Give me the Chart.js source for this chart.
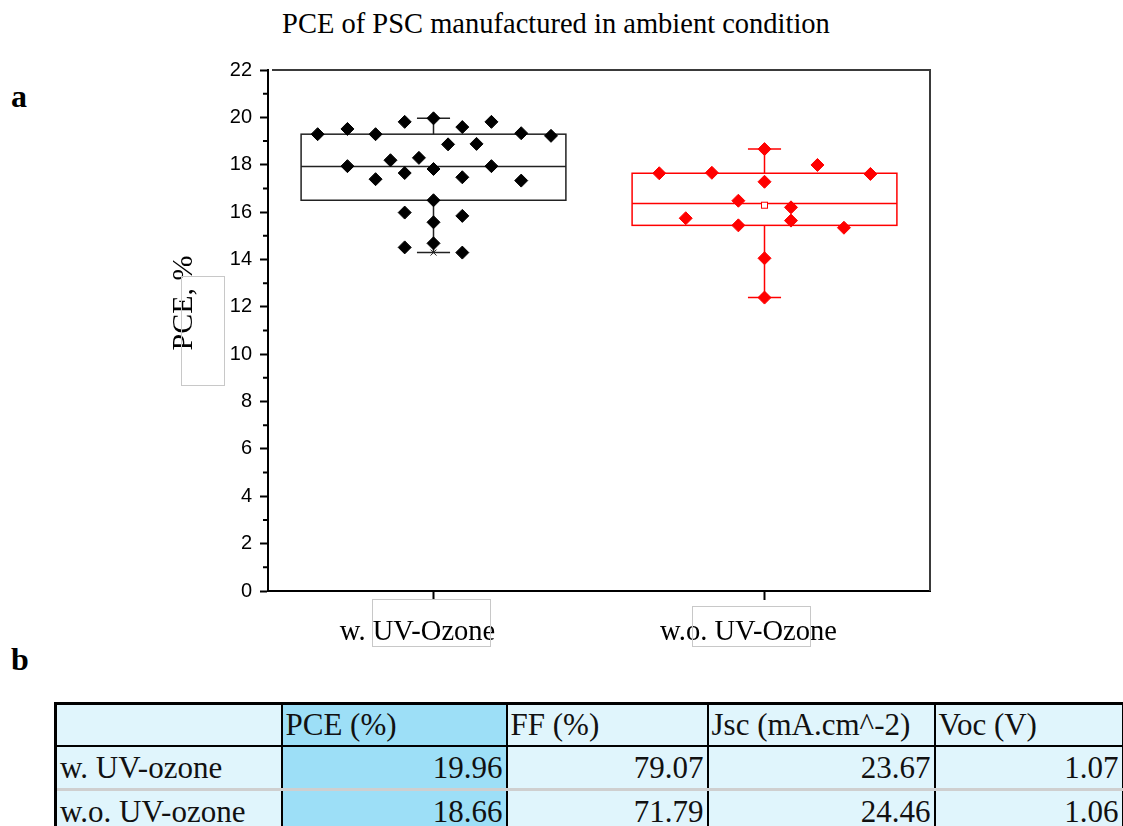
<!DOCTYPE html>
<html>
<head>
<meta charset="utf-8">
<script src="https://cdn.jsdelivr.net/npm/chart.js"></script>
<style>
  html, body { margin: 0; padding: 0; background: #fff; width: 1123px; height: 826px; overflow: hidden; }
  #wrap { position: relative; width: 1123px; height: 826px; }
  #chartBox { position: absolute; left: 0; top: 0; width: 1123px; height: 660px; }
  .title { position: absolute; left: 0; width: 1112px; top: 8px; text-align: center;
    font: 28.5px "Liberation Serif", serif; color: #000; }
  .panel { position: absolute; font: bold 32px "Liberation Serif", serif; color: #000; }
  #stats { position: absolute; left: 54px; top: 702px; width: 1067px; table-layout: fixed;
    border-collapse: collapse; font: 31px "Liberation Serif", serif; color: #111; }
  #stats td { background: #e0f5fc; border: 2px solid #000; padding: 0 3px; height: 40px;
    white-space: nowrap; overflow: hidden; }
  #stats tr:first-child td { border-top-width: 3px; }
  #stats td:first-child { border-left-width: 3px; }
  #stats tr.data td { height: 41px; text-align: right; }
  #stats tr.data td:first-child { text-align: left; }
  #stats tr.data + tr.data td { border-top: 3px solid #cfcfcf; }
  #stats td.hl { background: #9ddff7; }
</style>
</head>
<body>
<div id="wrap">
  <div class="title" id="title"></div>
  <div class="panel" style="left:11px; top:78px;">a</div>
  <div class="panel" style="left:11px; top:641px;">b</div>
  <div id="chartBox"><canvas id="myChart"></canvas></div>
  <table id="stats">
    <colgroup>
      <col style="width:226px"><col style="width:225px"><col style="width:201px"><col style="width:227px"><col style="width:188px">
    </colgroup>
    <tbody id="statsBody"></tbody>
  </table>
</div>
<script>
const chartTitle = "PCE of PSC manufactured in ambient condition";
const yTitle = "PCE, %";
const categories = ["w. UV-Ozone", "w.o. UV-Ozone"];

// PCE of every cell, with the horizontal jitter (in category units) used in the plot
const wPce    = [19.29, 19.51, 19.29, 19.81, 19.96, 19.59, 19.81, 19.33, 19.22, 18.86, 18.88, 18.19, 18.29, 17.94,
                 17.39, 17.65, 17.82, 17.47, 17.94, 17.33, 16.50, 15.98, 15.84, 15.57, 14.51, 14.68, 14.29];
const wJitter = [-0.35, -0.26, -0.175, -0.087, 0, 0.087, 0.175, 0.265, 0.355, 0.044, 0.13, -0.13, -0.044, -0.26,
                 -0.175, -0.087, 0, 0.087, 0.175, 0.265, 0, -0.087, 0.087, 0, -0.087, 0, 0.087];
const woPce    = [17.64, 17.66, 18.66, 17.28, 17.99, 17.61, 15.74, 16.48, 16.20, 15.44, 15.64, 15.34, 14.05, 12.39];
const woJitter = [-0.318, -0.159, 0, 0, 0.16, 0.32, -0.238, -0.079, 0.08, -0.079, 0.08, 0.24, 0, 0];

// box statistics per category
const boxQ1     = [16.50, 15.44];
const boxMedian = [17.92, 16.36];
const boxQ3     = [19.29, 17.64];
const boxMin    = [14.29, 12.39];
const boxMax    = [19.96, 18.66];
const boxMean   = [null, 16.29];

const yMajorTicks = [0, 2, 4, 6, 8, 10, 12, 14, 16, 18, 20, 22];
const yMinorTicks = [1, 3, 5, 7, 9, 11, 13, 15, 17, 19, 21];

// table
const tableHeaders = ["", "PCE (%)", "FF (%)", "Jsc (mA.cm^-2)", "Voc (V)"];
const tableRowNames = ["w. UV-ozone", "w.o. UV-ozone"];
const tablePce = ["19.96", "18.66"];
const tableFf  = ["79.07", "71.79"];
const tableJsc = ["23.67", "24.46"];
const tableVoc = ["1.07", "1.06"];

const groupColors = ["#000000", "#ff0000"];
const boxLineColors = ["#222222", "#ff0000"];
const serif = '"Liberation Serif", "Times New Roman", serif';

document.getElementById("title").textContent = chartTitle;

// build table
var body = document.getElementById("statsBody");
var head = document.createElement("tr");
tableHeaders.forEach(function (h, i) {
  var td = document.createElement("td");
  td.textContent = h;
  if (i === 1) td.className = "hl";
  head.appendChild(td);
});
body.appendChild(head);
tableRowNames.forEach(function (name, r) {
  var tr = document.createElement("tr");
  tr.className = "data";
  [name, tablePce[r], tableFf[r], tableJsc[r], tableVoc[r]].forEach(function (v, i) {
    var td = document.createElement("td");
    td.textContent = v;
    if (i === 1) td.className = "hl";
    tr.appendChild(td);
  });
  body.appendChild(tr);
});

function toPoints(values, jitter, catIndex) {
  return values.map(function (v, i) { return { x: catIndex + 1 + jitter[i], y: v }; });
}

// box, whiskers, minor ticks, frame and the loose text boxes
const boxPlugin = {
  id: "boxPlugin",
  beforeDatasetsDraw(chart) {
    const ctx = chart.ctx, xs = chart.scales.x, ys = chart.scales.y;
    ctx.save();
    categories.forEach(function (c, i) {
      const cx = xs.getPixelForValue(i + 1);
      const half = xs.getPixelForValue(i + 1.4) - cx;
      const cap = xs.getPixelForValue(i + 1.05) - cx;
      const yq1 = ys.getPixelForValue(boxQ1[i]), yq3 = ys.getPixelForValue(boxQ3[i]);
      const ymed = ys.getPixelForValue(boxMedian[i]);
      const ymin = ys.getPixelForValue(boxMin[i]), ymax = ys.getPixelForValue(boxMax[i]);
      ctx.strokeStyle = boxLineColors[i];
      ctx.lineWidth = 1.5;
      ctx.strokeRect(cx - half, yq3, 2 * half, yq1 - yq3);
      ctx.beginPath();
      ctx.moveTo(cx - half, ymed); ctx.lineTo(cx + half, ymed);
      ctx.moveTo(cx, yq3); ctx.lineTo(cx, ymax);
      ctx.moveTo(cx, yq1); ctx.lineTo(cx, ymin);
      ctx.moveTo(cx - cap, ymax); ctx.lineTo(cx + cap, ymax);
      ctx.moveTo(cx - cap, ymin); ctx.lineTo(cx + cap, ymin);
      ctx.stroke();
      // min / max crosses
      ctx.lineWidth = 1;
      [ymin, ymax].forEach(function (yy) {
        ctx.beginPath();
        ctx.moveTo(cx - 3, yy - 3); ctx.lineTo(cx + 3, yy + 3);
        ctx.moveTo(cx + 3, yy - 3); ctx.lineTo(cx - 3, yy + 3);
        ctx.stroke();
      });
      if (boxMean[i] !== null) {
        const ym = ys.getPixelForValue(boxMean[i]);
        ctx.fillStyle = "#fff";
        ctx.fillRect(cx - 3, ym - 3, 6, 6);
        ctx.strokeRect(cx - 3, ym - 3, 6, 6);
      }
    });
    ctx.restore();
  },
  afterDraw(chart) {
    const ctx = chart.ctx, ys = chart.scales.y, a = chart.chartArea;
    ctx.save();
    // minor ticks
    ctx.strokeStyle = "#000";
    ctx.lineWidth = 2;
    ctx.beginPath();
    yMinorTicks.forEach(function (v) {
      const yy = ys.getPixelForValue(v);
      ctx.moveTo(a.left - 5, yy); ctx.lineTo(a.left, yy);
    });
    ctx.stroke();
    // top and right frame
    ctx.strokeStyle = "#3a3a3a";
    ctx.beginPath();
    ctx.moveTo(a.left + 4, a.top); ctx.lineTo(a.right, a.top); ctx.lineTo(a.right, a.bottom);
    ctx.stroke();
    // y title
    ctx.fillStyle = "#000";
    ctx.font = "30px " + serif;
    ctx.textAlign = "center";
    ctx.textBaseline = "alphabetic";
    ctx.translate(192, 303);
    ctx.rotate(-Math.PI / 2);
    ctx.fillText(yTitle, 0, 0);
    ctx.restore();
    // faint text boxes left in the original figure
    ctx.save();
    ctx.strokeStyle = "#c8c8c8";
    ctx.lineWidth = 1;
    ctx.strokeRect(181.5, 276.5, 43, 109);
    ctx.strokeRect(372.5, 599.5, 118, 47);
    ctx.strokeRect(692.5, 606.5, 118, 40);
    ctx.restore();
  }
};

var ctx = document.getElementById("myChart").getContext("2d");
var pceChart = new Chart(ctx, {
  type: "scatter",
  data: {
    datasets: [
      { data: toPoints(wPce, wJitter, 0), backgroundColor: groupColors[0], borderColor: groupColors[0] },
      { data: toPoints(woPce, woJitter, 1), backgroundColor: groupColors[1], borderColor: groupColors[1] }
    ]
  },
  options: {
    responsive: true,
    maintainAspectRatio: false,
    animation: false,
    layout: { padding: { top: 70, right: 193, left: 0, bottom: 0 } },
    elements: { point: { pointStyle: "rectRot", radius: 6.5, borderWidth: 1, hoverRadius: 6.5 } },
    plugins: { legend: { display: false }, tooltip: { enabled: false } },
    scales: {
      x: {
        type: "linear",
        min: 0.5,
        max: 2.5,
        afterBuildTicks: function (scale) {
          scale.ticks = categories.map(function (c, i) { return { value: i + 1 }; });
        },
        afterFit: function (scale) { scale.height = 69; },
        ticks: {
          callback: function (value) { return categories[value - 1]; },
          color: "#000",
          font: { family: serif, size: 28.5 },
          padding: 15,
          labelOffset: -16,
          maxRotation: 0,
          autoSkip: false
        },
        grid: { drawOnChartArea: false, tickLength: 9, tickColor: "#000", tickWidth: 2 },
        border: { color: "#000", width: 2 }
      },
      y: {
        min: 0,
        max: 22,
        afterBuildTicks: function (scale) {
          scale.ticks = yMajorTicks.map(function (v) { return { value: v }; });
        },
        afterFit: function (scale) { scale.width = 268; },
        ticks: {
          color: "#000",
          font: { family: '"Liberation Sans", Arial, sans-serif', size: 20 },
          padding: 8
        },
        grid: { drawOnChartArea: false, tickLength: 8, tickColor: "#000", tickWidth: 2 },
        border: { color: "#000", width: 2 }
      }
    }
  },
  plugins: [boxPlugin]
});
</script>
</body>
</html>
